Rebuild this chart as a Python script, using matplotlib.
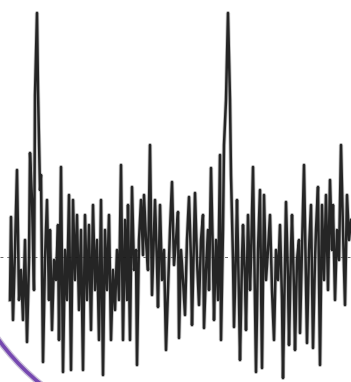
import matplotlib
matplotlib.use("Agg")
import matplotlib.pyplot as plt
from matplotlib.patches import Arc

# sample positions (time) and signal amplitude (baseline = 0)
t = [10, 11, 13, 15, 17, 19, 21, 23, 25, 27, 29, 30, 32, 34, 35, 37, 38, 40, 41, 43,
     45, 47, 49, 50, 52, 54, 56, 58, 59, 61, 63, 65, 67, 69, 71, 73, 75, 77, 79, 81,
     83, 85, 87, 89, 91, 93, 95, 97, 99, 101, 103, 105, 107, 109, 111, 113, 115, 117, 119, 121,
     123, 125, 127, 128, 130, 132, 134, 136, 137, 139, 141, 143, 144, 146, 148, 150, 152, 154, 155, 157,
     158, 160, 162, 164, 166, 168, 170, 172, 174, 176, 178, 179, 181, 183, 185, 187, 189, 191, 192, 194,
     195, 197, 199, 201, 203, 204, 206, 208, 209, 211, 213, 214, 216, 218, 220, 221, 223, 224, 226, 228,
     230, 231, 233, 234, 236, 237, 239, 240, 242, 243, 245, 246, 248, 250, 251, 253, 255, 256, 258, 260,
     262, 264, 266, 268, 270, 272, 274, 276, 278, 280, 282, 283, 285, 286, 288, 289, 291, 292, 294, 295,
     297, 299, 300, 302, 304, 306, 307, 309, 311, 313, 315, 316, 318, 320, 322, 324, 326, 328, 330, 332,
     333, 335, 337, 339, 341, 343, 345, 347, 349, 351]
signal = [-43, 40, -63, 7, 87, -43, -13, -63, 17, -85, -3, 104, 57, -33, 162, 244, 167, 67, 82, -105,
          -3, 57, -43, 27, -73, -3, -23, 32, -83, 90, -115, 7, -43, 62, -113, 57, -23, 42, -53, 27,
          -113, 42, -43, 32, -73, 52, -33, 17, -83, 57, -118, 27, -33, 42, -83, -13, -53, 7, -43, 92,
          -83, 37, -43, 52, -83, 70, -13, 7, -108, 17, 57, 2, 62, 17, -13, 112, -38, 27, 57, -8,
          -50, 52, -23, 7, -93, -33, 27, 75, -8, 17, 45, -81, 7, -23, -58, 17, 60, -3, -68, 17,
          64, -3, -48, 17, 42, -71, -13, 27, -33, 89, -3, -63, 17, -43, 102, -83, 27, 112, 157, 244,
          157, 82, -3, -70, 7, 57, -43, -103, -3, 32, -23, -73, 42, -33, -3, 90, -43, -115, 7, 67,
          -111, 62, -23, 7, 42, -33, -83, 7, -23, 32, -43, -121, -3, 55, -23, -88, 7, 42, -33, -93,
          -3, 17, -76, 7, 92, -23, -86, 7, 52, -91, -3, 27, 70, -108, 52, -23, 62, -33, 77, 7,
          52, -43, 27, -3, 112, 27, -48, 62, 17, 37]

fig = plt.figure(figsize=(3.51, 3.82), dpi=100)
fig.patch.set_facecolor("white")
ax = fig.add_axes([0, 0, 1, 1])
ax.set_xlim(0, 351)
ax.set_ylim(-125, 257)
ax.axis("off")

ax.axhline(0, color="#666666", lw=0.7, ls=(0, (3, 4)), zorder=1)
ax.plot(t, signal, color="#888888", lw=3.0, alpha=0.5, zorder=2)
ax.plot(t, signal, color="#141414", lw=1.8, alpha=0.9, zorder=3)

# decorative purple arc in image pixel coordinates
ov = fig.add_axes([0, 0, 1, 1])
ov.set_xlim(0, 351)
ov.set_ylim(382, 0)
ov.axis("off")
ov.patch.set_alpha(0)
ov.add_patch(Arc((190, 200), 474, 474, theta1=90, theta2=180, color="#c9bfd8", lw=4.5, zorder=3))
ov.add_patch(Arc((190, 200), 474, 474, theta1=90, theta2=180, color="#7648b0", lw=2.6, zorder=4))

fig.savefig("out.png", dpi=100, facecolor="white")
